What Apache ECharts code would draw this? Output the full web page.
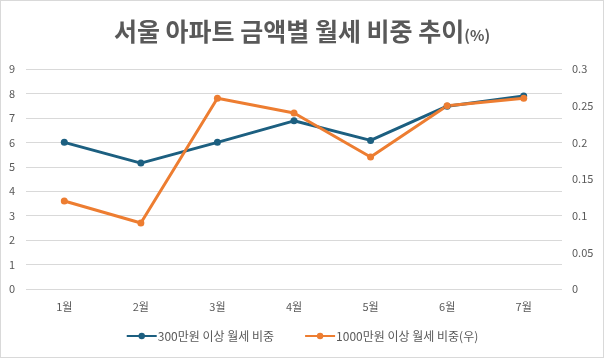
<!DOCTYPE html>
<html><head><meta charset="utf-8">
<script src="https://cdn.jsdelivr.net/npm/echarts@6/dist/echarts.min.js"></script>
<style>html,body{margin:0;padding:0;background:#fff}#c{width:602px;height:356px;border:1px solid #d9d9d9}</style>
</head><body><div id="c"></div>
<script>
const categories = ['1월','2월','3월','4월','5월','6월','7월'];
const seriesNames = ['300만원 이상 월세 비중','1000만원 이상 월세 비중(우)'];
const over300 = [6.0, 5.15, 6.0, 6.88, 6.08, 7.48, 7.9];
const over1000 = [0.12, 0.09, 0.26, 0.24, 0.18, 0.25, 0.26];
const leftTicks = [0, 9, 1];
const rightTicks = [0, 0.3, 0.05];

const chart = echarts.init(document.getElementById('c'));
const font = '"Noto Sans CJK KR", "Noto Sans", sans-serif';
chart.setOption({
  animation: false,
  title: {
    text: '{a|서울 아파트 금액별 월세 비중 추이}{b|(%)}',
    left: 'center', top: 13,
    textStyle: {
      rich: {
        a: {fontSize: 25, fontWeight: 'bold', color: '#595959', fontFamily: font},
        b: {fontSize: 15, color: '#595959', fontFamily: font, padding: [8,0,0,0]}
      }
    }
  },
  grid: {left: 25, right: 41, top: 68, bottom: 68, containLabel: false},
  legend: {
    bottom: 10, left: 'center', itemWidth: 30, itemHeight: 8, itemGap: 30,
    textStyle: {fontSize: 12, color: '#595959', fontFamily: font, padding: [0,0,0,-4]},
    data: seriesNames
  },
  xAxis: {
    type: 'category', data: categories, boundaryGap: true,
    axisLine: {show: false}, axisTick: {show: false},
    axisLabel: {color: '#595959', fontSize: 11, fontFamily: font, margin: 12}
  },
  yAxis: [
    {type: 'value', min: leftTicks[0], max: leftTicks[1], interval: leftTicks[2],
     axisLabel: {color: '#595959', fontSize: 11, fontFamily: font, margin: 11, align: 'right'},
     splitLine: {lineStyle: {color: '#d9d9d9'}}, axisLine: {show: false}, axisTick: {show: false}},
    {type: 'value', min: rightTicks[0], max: rightTicks[1], interval: rightTicks[2],
     axisLabel: {color: '#595959', fontSize: 11, fontFamily: font, margin: 10},
     splitLine: {show: false}, axisLine: {show: false}, axisTick: {show: false}}
  ],
  series: [
    {name: seriesNames[0], type: 'line', data: over300, yAxisIndex: 0,
     symbol: 'circle', symbolSize: 7, color: '#1c5f80',
     lineStyle: {width: 3, color: '#1c5f80'}, itemStyle: {color: '#1c5f80'}},
    {name: seriesNames[1], type: 'line', data: over1000, yAxisIndex: 1,
     symbol: 'circle', symbolSize: 7, color: '#ed7d31',
     lineStyle: {width: 3, color: '#ed7d31'}, itemStyle: {color: '#ed7d31'}}
  ]
});
</script></body></html>
